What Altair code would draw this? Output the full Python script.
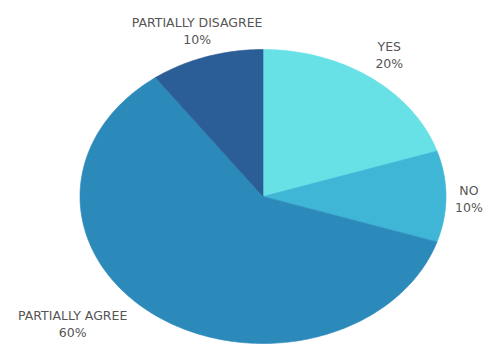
import numpy as np
import pandas as pd
import altair as alt

categories = ["YES", "NO", "PARTIALLY AGREE", "PARTIALLY DISAGREE"]
values = [20, 10, 60, 10]
pct_labels = ["20%", "10%", "60%", "10%"]
colors = ["#67E0E6", "#40B6D6", "#2C8ABB", "#2B5D97"]

# ---- layout (pixels of the plot area) ----
W, H = 475, 337
CX, CY = 255, 188.5        # pie centre
RX, RY = 183, 147          # ellipse radii
# label anchors (top-centre of text block) in ellipse-unit coordinates
label_anchor = {
    "YES": (0.69, 1.06),
    "NO": (1.125, 0.08),
    "PARTIALLY AGREE": (-1.04, -0.77),
    "PARTIALLY DISAGREE": (-0.36, 1.22),
}

total = sum(values)
rows = []
start = 0.0
for cat, v in zip(categories, values):
    end = start + v / total * 360.0
    angs = np.linspace(start, end, max(int((end - start)) + 2, 3))
    pts = [(0.0, 0.0)] + [(np.sin(np.radians(a)), np.cos(np.radians(a))) for a in angs] + [(0.0, 0.0)]
    for k, (px, py) in enumerate(pts):
        rows.append({"cat": cat, "k": k, "x": px, "y": py})
    start = end
poly = pd.DataFrame(rows)

lab = pd.DataFrame({
    "cat": categories,
    "text": [f"{c}\n{p}" for c, p in zip(categories, pct_labels)],
    "x": [label_anchor[c][0] for c in categories],
    "y": [label_anchor[c][1] for c in categories],
})

xs = alt.Scale(domain=[-CX / RX, (W - CX) / RX], range=[0, W], nice=False, zero=False)
ys = alt.Scale(domain=[-(H - CY) / RY, CY / RY], range=[H, 0], nice=False, zero=False)
cs = alt.Scale(domain=categories, range=colors)

pie = alt.Chart(poly).mark_line(strokeWidth=0.6, interpolate="linear").encode(
    x=alt.X("x:Q", scale=xs, axis=None),
    y=alt.Y("y:Q", scale=ys, axis=None),
    detail="cat:N",
    order="k:Q",
    fill=alt.Fill("cat:N", scale=cs, legend=None),
    stroke=alt.Stroke("cat:N", scale=cs, legend=None),
)

text = alt.Chart(lab).mark_text(
    font="DejaVu Sans", fontSize=12.5, color="#555555", baseline="top", align="center",
    lineBreak="\n", lineHeight=17,
).encode(
    x=alt.X("x:Q", scale=xs, axis=None),
    y=alt.Y("y:Q", scale=ys, axis=None),
    text="text:N",
)

chart = alt.layer(pie, text).properties(
    width=W, height=H, padding=0, autosize=alt.AutoSizeParams(type="none")
).configure_view(stroke=None)

chart.save("out.html", embed_options={"renderer": "svg", "actions": False})
